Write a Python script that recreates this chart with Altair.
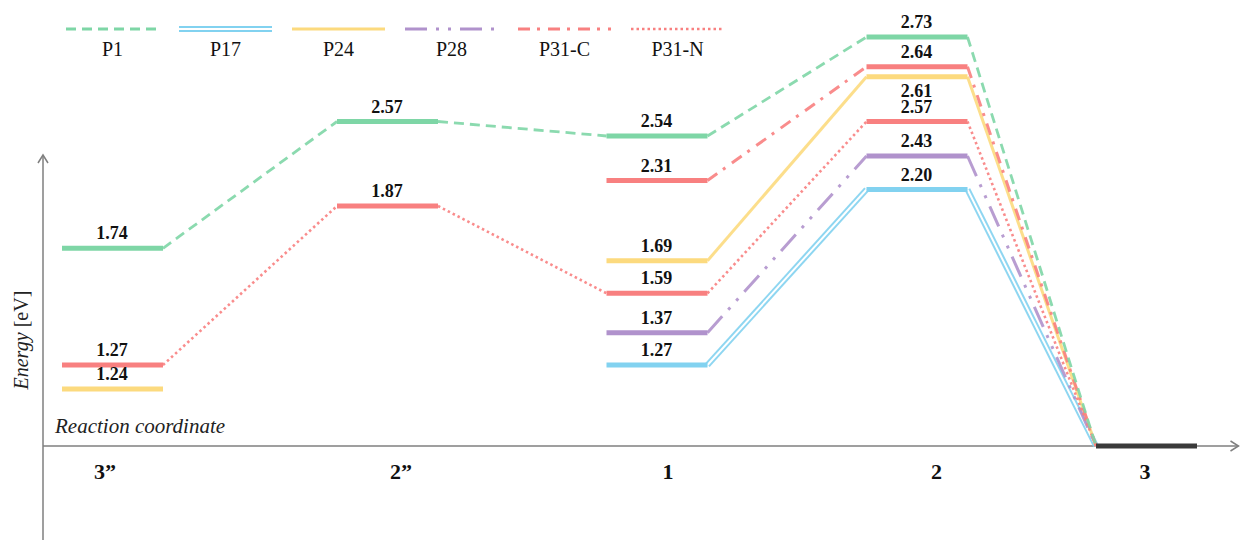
import altair as alt
import pandas as pd

# ---------------- data ----------------
STAGES = ["3\u201d", "2\u201d", "1", "2", "3"]
SERIES = ["P1", "P17", "P24", "P28", "P31-C", "P31-N"]
E_P1 = [1.74, 2.57, 2.54, 2.73, 0.00]
E_P17 = [None, None, 1.27, 2.20, 0.00]
E_P24 = [1.24, None, 1.69, 2.61, 0.00]
E_P28 = [None, None, 1.37, 2.43, 0.00]
E_P31C = [None, None, 2.31, 2.64, 0.00]
E_P31N = [1.27, 1.87, 1.59, 2.57, 0.00]
ENERGIES = [E_P1, E_P17, E_P24, E_P28, E_P31C, E_P31N]

# ---------------- styles ----------------
COLORS = ["#7ED6A6", "#82D2F0", "#FCDA7E", "#B092CC", "#F88080", "#F88080"]
DASHES = [[10, 6], None, None, [22, 9, 3, 9, 3, 9], [12, 7, 3, 8], [2.5, 3]]
WIDTHS = [2.8, 6, 3, 3, 3, 2.6]
LABEL_BELOW = {("P24", 3)}
FONT = "Liberation Serif"
GREY = "#7f7f7f"
W, H = 1232, 532

# schematic (piecewise) scales of the level diagram
X_RANGE = [104, 379, 648.5, 908.5, 1138]
Y_RANGE = [438, 381, 357, 324.7, 285.3, 252.7, 240.3, 198, 181.5, 172.5,
           148, 128, 113.5, 68.7, 58.7, 29]
levels_sorted = sorted({e for row in ENERGIES for e in row if e is not None})
xs = alt.Scale(domain=list(range(len(STAGES))), range=X_RANGE, zero=False, nice=False)
ys = alt.Scale(domain=levels_sorted, range=Y_RANGE, zero=False, nice=False)

HALF_L, HALF_R = -50, 51

# ---------------- tables ----------------
seg_rows, lvl_rows = [], []
for name, row in zip(SERIES, ENERGIES):
    for j, e in enumerate(row):
        if e is None:
            continue
        if e > 0:
            lvl_rows.append({"series": name, "s": j, "e": e,
                             "lab": f"{e:.2f}",
                             "below": (name, j) in LABEL_BELOW})
        if j + 1 < len(row) and row[j + 1] is not None:
            seg_rows.append({"series": name, "s0": j, "s1": j + 1,
                             "e0": e, "e1": row[j + 1]})
segs = pd.DataFrame(seg_rows)
lvls = pd.DataFrame(lvl_rows)
zero = pd.DataFrame([{"s": len(STAGES) - 1, "e": 0.0}])

layers = []
one = pd.DataFrame({"k": [0]})

# ---------------- axes (arrows) ----------------
layers.append(alt.Chart(one).mark_rule(color=GREY, strokeWidth=1.5).encode(
    x=alt.value(35), y=alt.value(147), y2=alt.value(H)))
layers.append(alt.Chart(one).mark_rule(color=GREY, strokeWidth=1.5).encode(
    x=alt.value(35), x2=alt.value(W - 1.5), y=alt.value(438)))
layers.append(alt.Chart(one).mark_point(
    shape="M -1 1.6 L 0 0 L 1 1.6", filled=False, size=100, stroke=GREY,
    strokeWidth=1.5, opacity=1).encode(x=alt.value(35), y=alt.value(147)))
layers.append(alt.Chart(one).mark_point(
    shape="M -1.6 -1 L 0 0 L -1.6 1", filled=False, size=100, stroke=GREY,
    strokeWidth=1.5, opacity=1).encode(x=alt.value(W - 1.5), y=alt.value(438)))

# ---------------- connecting lines ----------------
order = [1, 2, 3, 5, 4, 0]
for i in order:
    name = SERIES[i]
    d = segs[segs["series"] == name]
    kw = dict(color=COLORS[i], strokeWidth=WIDTHS[i], xOffset=HALF_R,
              x2Offset=HALF_L, opacity=0.9)
    if DASHES[i]:
        kw["strokeDash"] = DASHES[i]
    enc = dict(x=alt.X("s0:Q", scale=xs, axis=None), x2="s1:Q",
               y=alt.Y("e0:Q", scale=ys, axis=None), y2="e1:Q")
    layers.append(alt.Chart(d).mark_rule(**kw).encode(**enc))
    if name == "P17":
        layers.append(alt.Chart(d).mark_rule(
            color="white", strokeWidth=2, xOffset=HALF_R, x2Offset=HALF_L).encode(**enc))

# ---------------- levels ----------------
layers.append(alt.Chart(lvls).mark_rule(strokeWidth=5, xOffset=HALF_L, x2Offset=HALF_R).encode(
    x=alt.X("s:Q", scale=xs, axis=None), x2="s:Q",
    y=alt.Y("e:Q", scale=ys, axis=None),
    color=alt.Color("series:N", scale=alt.Scale(domain=SERIES, range=COLORS), legend=None)))
layers.append(alt.Chart(zero).mark_rule(strokeWidth=5, color="#3a3a3a",
                                        xOffset=HALF_L, x2Offset=HALF_R).encode(
    x=alt.X("s:Q", scale=xs, axis=None), x2="s:Q",
    y=alt.Y("e:Q", scale=ys, axis=None)))

# ---------------- value labels ----------------
for below, dy in ((False, -9), (True, 20)):
    layers.append(alt.Chart(lvls[lvls["below"] == below]).mark_text(
        font=FONT, fontSize=18, fontWeight="bold", color="#111", dy=dy,
        baseline="alphabetic", align="center").encode(
        x=alt.X("s:Q", scale=xs, axis=None),
        y=alt.Y("e:Q", scale=ys, axis=None), text="lab:N"))

# ---------------- stage labels ----------------
CAT_DX = [-7, 14, 11.5, 20, -1]
for j, name in enumerate(STAGES):
    layers.append(alt.Chart(pd.DataFrame({"s": [j], "t": [name]})).mark_text(
        font=FONT, fontSize=22, fontWeight="bold", color="#111", dx=CAT_DX[j],
        baseline="alphabetic", align="center").encode(
        x=alt.X("s:Q", scale=xs, axis=None), y=alt.value(471), text="t:N"))

# ---------------- axis titles ----------------
layers.append(alt.Chart(one).mark_text(
    font=FONT, fontSize=21, fontStyle="italic", color="#222", align="left",
    baseline="alphabetic", text="Reaction coordinate").encode(
    x=alt.value(47), y=alt.value(425)))
layers.append(alt.Chart(one).mark_text(
    font=FONT, fontSize=20, fontStyle="italic", color="#222", align="center",
    baseline="middle", angle=270, text="Energy").encode(
    x=alt.value(14), y=alt.value(353)))
layers.append(alt.Chart(one).mark_text(
    font=FONT, fontSize=20, color="#222", align="center",
    baseline="middle", angle=270, text="[eV]").encode(
    x=alt.value(14), y=alt.value(301)))

# ---------------- legend ----------------
for i, name in enumerate(SERIES):
    x0 = 58 + 113 * i
    x1 = x0 + 93
    kw = dict(color=COLORS[i], strokeWidth=WIDTHS[i])
    if DASHES[i]:
        kw["strokeDash"] = DASHES[i]
    layers.append(alt.Chart(one).mark_rule(**kw).encode(
        x=alt.value(x0), x2=alt.value(x1), y=alt.value(21)))
    if name == "P17":
        layers.append(alt.Chart(one).mark_rule(color="white", strokeWidth=2).encode(
            x=alt.value(x0 - 1), x2=alt.value(x1 + 1), y=alt.value(21)))
    layers.append(alt.Chart(one).mark_text(
        font=FONT, fontSize=20, color="#111", align="center", baseline="alphabetic",
        text=name).encode(x=alt.value((x0 + x1) / 2), y=alt.value(48)))

chart = alt.layer(*layers).properties(
    width=W, height=H, padding=0, autosize="none"
).configure_view(strokeWidth=0)

chart.save("out.html", embed_options={"renderer": "svg", "actions": False})
